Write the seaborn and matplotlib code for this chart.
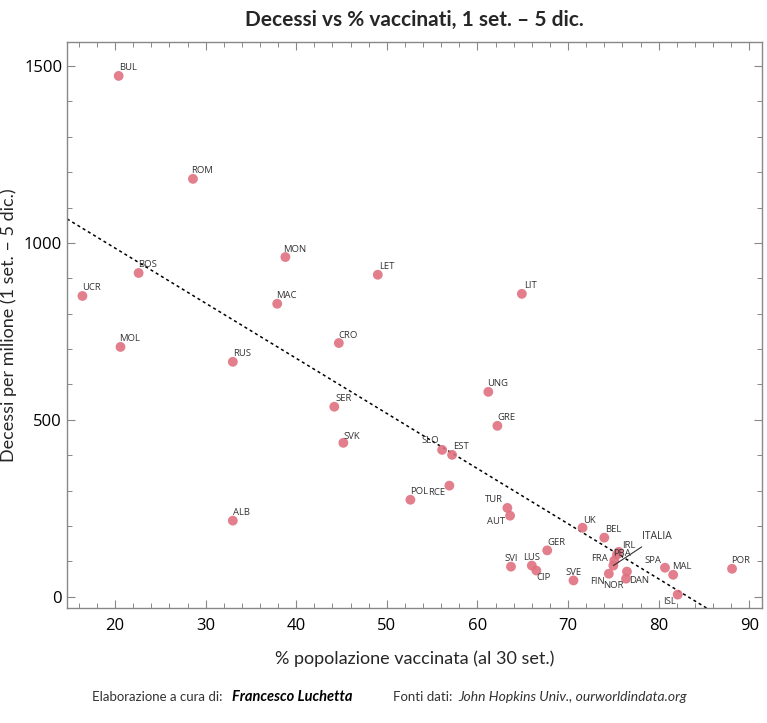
import numpy as np
import pandas as pd
import matplotlib
matplotlib.use("Agg")
import matplotlib.pyplot as plt
import seaborn as sns

# ---- data ----
paesi = ["BUL", "ROM", "MON", "BOS", "LET", "UCR", "MAC", "LIT", "CRO", "MOL",
         "RUS", "UNG", "SER", "GRE", "SVK", "SLO", "EST", "RCE", "POL", "TUR",
         "AUT", "UK", "GER", "ALB", "SVI", "LUS", "CIP", "SVE", "BEL", "IRL",
         "PBA", "FRA", "ITALIA", "FIN", "DAN", "NOR", "SPA", "MAL", "ISL", "POR"]
vaccinati = [20.4, 28.6, 38.8, 22.6, 49.0, 16.4, 37.9, 64.9, 44.7, 20.6,
             33.0, 61.2, 44.2, 62.2, 45.2, 56.1, 57.2, 56.9, 52.6, 63.3,
             63.6, 71.6, 67.7, 33.0, 63.7, 66.0, 66.5, 70.6, 74.0, 75.6,
             75.4, 75.1, 75.0, 74.5, 76.5, 76.4, 80.7, 81.6, 82.1, 88.1]
decessi = [1472, 1181, 960, 915, 910, 850, 828, 856, 717, 706,
           664, 579, 537, 483, 435, 415, 401, 314, 274, 251,
           229, 195, 131, 215, 85, 88, 74, 46, 167, 127,
           119, 102, 88, 65, 71, 51, 82, 62, 6, 79]

df = pd.DataFrame({"paese": paesi, "vacc": vaccinati, "dec": decessi})

# label offsets in pixels (dx, dy), text centred there
offs = {"SLO": (-12, 9), "RCE": (-13, -7), "TUR": (-13, 8), "AUT": (-14, -6),
        "SVI": (0, 8), "LUS": (0, 8), "CIP": (7, -7), "SVE": (0, 8),
        "IRL": (10, 6), "PBA": (5, 1), "FRA": (-15, 2), "FIN": (-11, -8),
        "NOR": (-13, -7), "DAN": (12, -9), "SPA": (-12, 7), "ISL": (-8, -7),
        "UK": (7, 7), "SVK": (8, 6)}

sns.set_style("ticks")
plt.rcParams["font.family"] = ["Lato", "DejaVu Sans"]

fig = plt.figure(figsize=(7.67, 7.23), dpi=100)
ax = fig.add_axes([0.0874, 0.159, 0.906, 0.783])
ax.set_xlim(14.7, 91.4)
ax.set_ylim(-32, 1568)

# regression line
sns.regplot(data=df, x="vacc", y="dec", ax=ax, scatter=False, ci=None,
            truncate=False,
            line_kws={"color": "black", "lw": 1.1, "ls": (0, (2, 2))})

sns.scatterplot(data=df, x="vacc", y="dec", ax=ax, color="#e07080",
                alpha=0.9, s=50, edgecolor="none", zorder=3)

for p, x, y in zip(paesi, vaccinati, decessi):
    if p == "ITALIA":
        ax.annotate(p, (x, y), xytext=(44, 29), textcoords="offset pixels",
                    ha="center", va="center", fontsize=7.5, color="#333333",
                    family="Open Sans",
                    arrowprops=dict(arrowstyle="-", color="#333333", lw=0.8,
                                    shrinkA=2, shrinkB=0))
        continue
    dx, dy = offs.get(p, (9, 8))
    ax.annotate(p, (x, y), xytext=(dx, dy), textcoords="offset pixels",
                ha="center", va="center", fontsize=6.8, color="#333333",
                family="Open Sans")

ax.set_xticks(np.arange(20, 91, 10))
ax.set_xticks(np.arange(16, 91, 2), minor=True)
ax.set_yticks([0, 500, 1000, 1500])
ax.set_yticks(np.arange(0, 1600, 100), minor=True)
ax.tick_params(which="both", direction="in", top=True, right=True,
               color="#888888", labelsize=12, labelcolor="black",
               labelfontfamily="Open Sans")
ax.tick_params(which="major", length=6, width=0.8)
ax.tick_params(which="minor", length=3.5, width=0.7)
ax.tick_params(axis="x", pad=7)
for s in ax.spines.values():
    s.set_color("#888888")
    s.set_linewidth(1.0)

ax.set_xlabel("% popolazione vaccinata (al 30 set.)", fontsize=13)
ax.set_ylabel("Decessi per milione (1 set. \u2013 5 dic.)", fontsize=13)
ax.xaxis.set_label_coords(0.5, -0.075)
ax.yaxis.set_label_coords(-0.072, 0.5)

fig.text(0.54, 0.972, "Decessi vs % vaccinati, 1 set. \u2013 5 dic.",
         ha="center", va="center", fontsize=15, fontweight="bold")

fig.text(0.12, 0.036, "Elaborazione a cura di:", fontsize=9.5, color="#333333",
         va="center")
fig.text(0.302, 0.036, "Francesco Luchetta", fontsize=10.5, fontweight="bold",
         style="italic", color="black", va="center")
fig.text(0.513, 0.036, "Fonti dati:", fontsize=9.5, color="#333333", va="center")
fig.text(0.598, 0.036, "John Hopkins Univ., ourworldindata.org", fontsize=10,
         style="italic", color="#333333", va="center")

plt.savefig("out.png", dpi=100)
